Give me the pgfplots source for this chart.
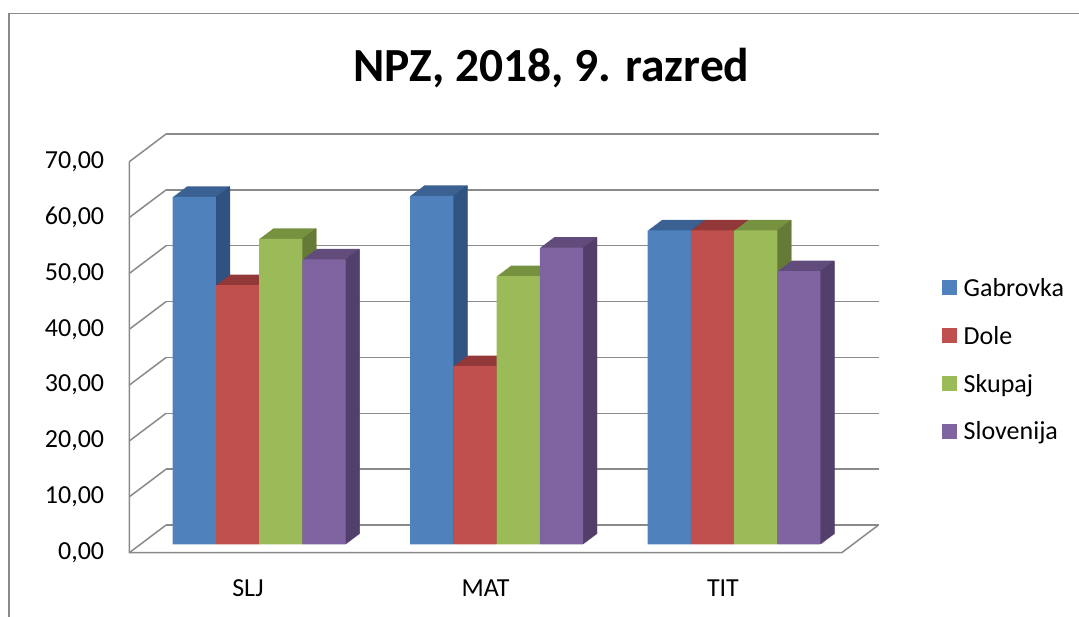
\documentclass[border=0pt]{standalone}
\usepackage{pgfplots}
\pgfplotsset{compat=1.18}
\usepackage{pgfplotstable}
\usepackage{fontspec}
\setmainfont{Carlito}

\definecolor{gridc}{HTML}{8A8A8A}
\definecolor{fBlue}{HTML}{4F81BD}
\definecolor{tBlue}{HTML}{3A6192}
\definecolor{sBlue}{HTML}{2F5280}
\definecolor{fRed}{HTML}{C0504D}
\definecolor{tRed}{HTML}{923838}
\definecolor{sRed}{HTML}{7C2F2E}
\definecolor{fGreen}{HTML}{9BBB59}
\definecolor{tGreen}{HTML}{769241}
\definecolor{sGreen}{HTML}{647A36}
\definecolor{fPurple}{HTML}{8064A2}
\definecolor{tPurple}{HTML}{624C7C}
\definecolor{sPurple}{HTML}{523E69}

\pgfplotstableread{
cat gab dole skup slo
0 62.2 46.4 54.7 51.0
1 62.4 31.9 48.0 53.1
2 56.2 56.2 56.2 48.9
}\npzdata

% one series of 3-D looking bars: depth copies (top colour), side slices, front face
% #1 column, #2 front colour, #3 top colour, #4 side colour, #5 bar shift of the front face (pt), #6 legend text
\newcommand\barseries[6]{%
  \pgfplotsforeachungrouped \i in {1,...,14}{%
    \pgfmathsetmacro\bsA{#5+\i}%
    \pgfmathsetmacro\ysA{8.4+0.75*\i}%
    \edef\doit{\noexpand\addplot[forget plot, ybar, bar width=43.2pt, bar shift=\bsA pt,
      yshift=\ysA pt, fill=#3, draw=none] table[x=cat,y=#1]{\noexpand\npzdata};}%
    \doit
  }%
  \pgfplotsforeachungrouped \i in {0,...,13}{%
    \pgfmathsetmacro\bsA{#5+21.6+\i+0.5}%
    \pgfmathsetmacro\ysA{8.4+0.75*(\i+0.5)}%
    \edef\doit{\noexpand\addplot[forget plot, ybar, bar width=1.3pt, bar shift=\bsA pt,
      yshift=\ysA pt, fill=#4, draw=none] table[x=cat,y=#1]{\noexpand\npzdata};}%
    \doit
  }%
  \addplot[ybar, bar width=43.2pt, bar shift=#5pt, fill=#2, draw=none, yshift=8.4pt,
    legend image code/.code={\fill[#2] (0pt,-14pt) rectangle (15pt,1pt);}]
    table[x=cat, y=#1]{\npzdata};
  \addlegendentry{#6}
}

\begin{document}
\begin{tikzpicture}
\useasboundingbox (0pt,0pt) rectangle (1079pt,616pt);
\draw[gridc, line width=1.5pt] (9pt,-2pt) -- (9pt,602.7pt) -- (1081pt,602.7pt);
\node[font=\fontsize{47.5}{52}\selectfont\bfseries, anchor=base, inner sep=0pt]
  at (551.5pt,534.3pt) {NPZ, 2018, 9. razred};
\begin{axis}[
  at={(129.3pt,63.3pt)}, anchor=south west, scale only axis,
  width=712.4pt, height=391pt,
  xmin=-0.5, xmax=2.5, ymin=0, ymax=70, clip=false,
  axis line style={draw=none}, major tick length=0pt, tick style={draw=none},
  ytick={0,10,20,30,40,50,60,70}, xtick={0,1,2}, xticklabels={SLJ,MAT,TIT},
  ymajorgrids, major grid style={draw=gridc, line width=1.5pt, xshift=36.8pt, yshift=27.7pt},
  /pgf/number format/assume math mode=true,
  yticklabel={\pgfmathprintnumber[fixed,fixed zerofill,precision=2,use comma]{\tick}},
  yticklabel style={font=\fontsize{26}{30}\selectfont, anchor=east, inner sep=0pt, xshift=-25pt},
  xticklabel style={font=\fontsize{26}{30}\selectfont, anchor=north, inner sep=0pt, yshift=-27pt},
  legend cell align=left,
  legend style={draw=none, fill=none, inner sep=0pt, outer sep=0pt,
    at={(1.1404,0.4887)}, anchor=west, font=\fontsize{26}{30}\selectfont,
    row sep=22.9pt, nodes={inner sep=0pt, text height=19pt, text depth=6pt},
    /tikz/every odd column/.append style={column sep=7pt}},
]
% walls
\pgfplotsinvokeforeach{0,10,20,30,40,50,60,70}{
  \draw[gridc, line width=1.5pt] (axis cs:-0.5,#1) -- ++(36.8pt,27.7pt);
}
\draw[gridc, line width=1.5pt] (axis cs:-0.5,70) -- (axis cs:-0.5,0) -- (axis cs:2.5,0) -- ++(36.8pt,27.7pt);
\barseries{gab}{fBlue}{tBlue}{sBlue}{-53.7}{Gabrovka}
\barseries{dole}{fRed}{tRed}{sRed}{-10.5}{Dole}
\barseries{skup}{fGreen}{tGreen}{sGreen}{32.7}{Skupaj}
\barseries{slo}{fPurple}{tPurple}{sPurple}{75.9}{Slovenija}
\end{axis}
\end{tikzpicture}
\end{document}
